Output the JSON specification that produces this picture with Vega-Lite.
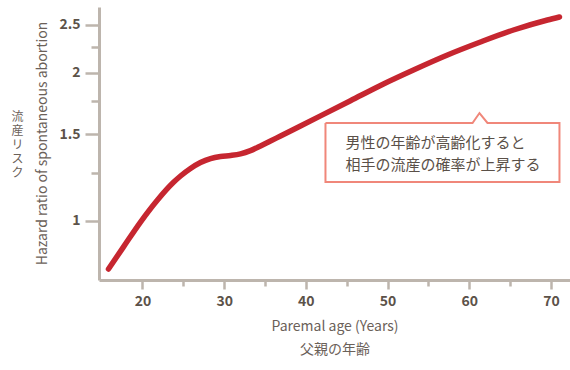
{
  "$schema": "https://vega.github.io/schema/vega-lite/v6.json",
  "width": 471,
  "height": 273,
  "autosize": {"type": "none"},
  "padding": {"left": 99, "top": 7, "right": 0, "bottom": 90},
  "background": "white",
  "config": {"view": {"stroke": null}, "font": "Noto Sans CJK JP"},
  "datasets": {
    "curve": [
      {"age": 15.84, "hr": 0.799},
      {"age": 17.68, "hr": 0.886},
      {"age": 19.76, "hr": 0.995},
      {"age": 21.84, "hr": 1.103},
      {"age": 23.8, "hr": 1.198},
      {"age": 24.66, "hr": 1.234},
      {"age": 25.88, "hr": 1.278},
      {"age": 27.1, "hr": 1.314},
      {"age": 28.33, "hr": 1.339},
      {"age": 29.55, "hr": 1.352},
      {"age": 30.78, "hr": 1.358},
      {"age": 32.0, "hr": 1.368},
      {"age": 33.22, "hr": 1.389},
      {"age": 34.45, "hr": 1.42},
      {"age": 35.67, "hr": 1.453},
      {"age": 36.9, "hr": 1.488},
      {"age": 39.34, "hr": 1.559},
      {"age": 41.79, "hr": 1.634},
      {"age": 45.46, "hr": 1.754},
      {"age": 49.5, "hr": 1.897},
      {"age": 53.17, "hr": 2.025},
      {"age": 57.33, "hr": 2.172},
      {"age": 61.37, "hr": 2.308},
      {"age": 65.41, "hr": 2.441},
      {"age": 69.57, "hr": 2.558},
      {"age": 71.04, "hr": 2.594}
    ],
    "box": [
      {"i": 0, "age": 42.4, "hr": 1.581},
      {"i": 1, "age": 60.4, "hr": 1.581},
      {"i": 2, "age": 61.25, "hr": 1.656},
      {"i": 3, "age": 62.23, "hr": 1.581},
      {"i": 4, "age": 71.04, "hr": 1.581},
      {"i": 5, "age": 71.04, "hr": 1.2},
      {"i": 6, "age": 42.4, "hr": 1.2},
      {"i": 7, "age": 42.4, "hr": 1.581}
    ],
    "note": [
      {"age": 44.85, "hr": 1.44, "t": "男性の年齢が高齢化すると"},
      {"age": 44.85, "hr": 1.299, "t": "相手の流産の確率が上昇する"}
    ]
  },
  "layer": [
    {
      "data": {"name": "box"},
      "mark": {"type": "line", "interpolate": "linear", "color": "#f0877a", "strokeWidth": 2, "strokeJoin": "miter"},
      "encoding": {
        "x": {"field": "age", "type": "quantitative"},
        "y": {"field": "hr", "type": "quantitative", "axis": null},
        "order": {"field": "i", "type": "quantitative"}
      }
    },
    {
      "data": {"name": "note"},
      "mark": {"type": "text", "align": "left", "baseline": "middle", "fontSize": 15, "color": "#5a5048"},
      "encoding": {
        "x": {"field": "age", "type": "quantitative"},
        "y": {"field": "hr", "type": "quantitative", "axis": {"orient": "left", "title": ["流", "産", "リ", "ス", "ク"], "titleAngle": 0, "titleX": -82, "titleY": 109, "titleAlign": "center", "titleBaseline": "middle", "titleLineHeight": 14, "titleFontSize": 12, "titleFontWeight": "normal", "titleColor": "#6b6159", "labels": false, "ticks": false, "domain": false, "grid": false}},
        "text": {"field": "t", "type": "nominal"}
      }
    },
    {
      "data": {"name": "curve"},
      "mark": {"type": "line", "interpolate": "monotone", "color": "#c62630", "strokeWidth": 5.5, "strokeCap": "round"},
      "encoding": {
        "x": {
          "field": "age", "type": "quantitative",
          "scale": {"domain": [14.68, 72.33], "nice": false, "zero": false},
          "axis": {
            "values": [20, 25, 30, 35, 40, 45, 50, 55, 60, 65, 70],
            "labelExpr": "datum.value % 10 === 0 ? datum.label : ''",
            "tickSize": {"condition": {"test": "datum.value % 10 === 0", "value": 9}, "value": 6},
            "tickWidth": 2.5, "tickColor": "#bdb5ad",
            "domainColor": "#bdb5ad", "domainWidth": 3,
            "grid": false, "labelFlush": false,
            "labelFontSize": 14, "labelFontWeight": "bold", "labelColor": "#5c5249", "labelPadding": 5,
            "title": ["Paremal age (Years)", "父親の年齢"],
            "titleFontSize": 14, "titleFontWeight": "normal", "titleColor": "#6b6159",
            "titlePadding": 11, "titleLineHeight": 23
          }
        },
        "y": {
          "field": "hr", "type": "quantitative",
          "scale": {"type": "log", "domain": [0.759, 2.718], "nice": false},
          "axis": {
            "orient": "left",
            "values": [1, 1.25, 1.5, 1.75, 2, 2.25, 2.5],
            "labelExpr": "indexof([1, 1.5, 2, 2.5], datum.value) >= 0 ? format(datum.value, '~g') : ''",
            "tickSize": {"condition": {"test": "indexof([1, 1.5, 2, 2.5], datum.value) >= 0", "value": 14}, "value": 8},
            "tickWidth": 2.5, "tickColor": "#bdb5ad",
            "domainColor": "#bdb5ad", "domainWidth": 3,
            "grid": false, "labelFlush": false,
            "labelFontSize": 14, "labelFontWeight": "bold", "labelColor": "#5c5249", "labelPadding": 5,
            "title": "Hazard ratio of spontaneous abortion",
            "titleFontSize": 14, "titleFontWeight": "normal", "titleColor": "#6b6159",
            "titleX": -57, "titleY": 136, "titleAngle": -90, "titleAlign": "center", "titleBaseline": "middle"
          }
        }
      }
    }
  ],
  "resolve": {"axis": {"y": "independent"}}
}
